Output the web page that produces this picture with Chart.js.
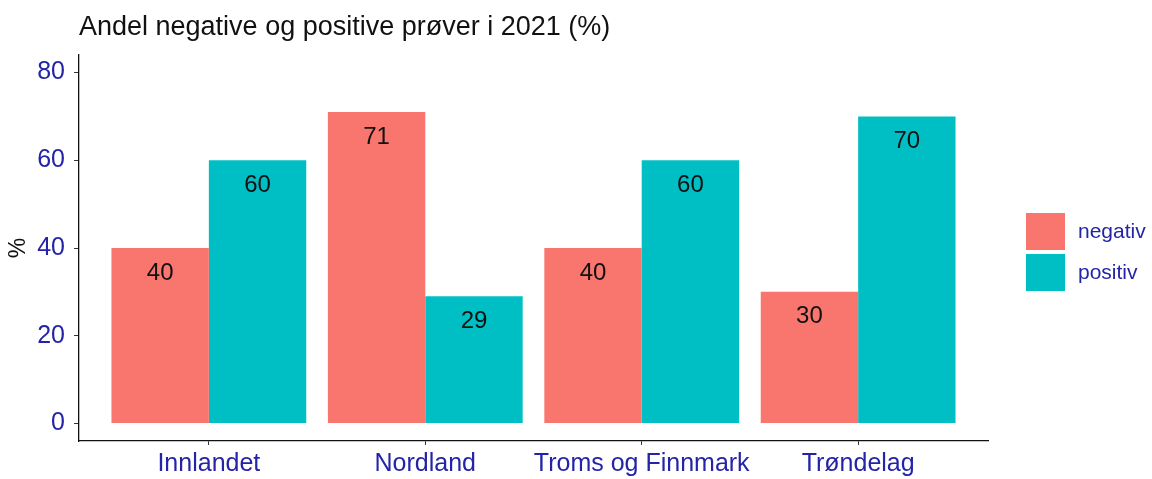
<!DOCTYPE html>
<html>
<head>
<meta charset="utf-8">
<script src="https://cdn.jsdelivr.net/npm/chart.js@4.4.1/dist/chart.umd.min.js"></script>
<style>
  html, body { margin: 0; padding: 0; background: #fff; }
  #wrap { width: 1152px; height: 479px; position: relative; }
</style>
</head>
<body>
<div id="wrap"><canvas id="andelChart"></canvas></div>
<script>
// data
const regions = ['Innlandet', 'Nordland', 'Troms og Finnmark', 'Trøndelag'];
const negativValues = [40, 71, 40, 30];
const positivValues = [60, 29, 60, 70];
const yTicks = [0, 20, 40, 60, 80];

const blueText = '#2424a8';
const fontFam = '"Liberation Sans", Arial, sans-serif';

// custom drawing: title, y title, value labels, legend
const decorPlugin = {
    id: 'decor',
    afterDatasetsDraw(chart) {
        const ctx = chart.ctx;
        ctx.save();
        // value labels in bars
        ctx.fillStyle = '#111';
        ctx.font = '24px ' + fontFam;
        ctx.textAlign = 'center';
        ctx.textBaseline = 'middle';
        chart.data.datasets.forEach(function(ds, i) {
            chart.getDatasetMeta(i).data.forEach(function(bar, j) {
                ctx.fillText(Math.round(ds.data[j].y), bar.x, bar.y + 25);
            });
        });
        ctx.restore();
    },
    afterDraw(chart) {
        const ctx = chart.ctx;
        const area = chart.chartArea;
        ctx.save();
        // title
        ctx.fillStyle = '#111';
        ctx.font = '27px ' + fontFam;
        ctx.textAlign = 'left';
        ctx.textBaseline = 'alphabetic';
        ctx.fillText('Andel negative og positive prøver i 2021 (%)', area.left, 35);
        // y title
        ctx.save();
        ctx.translate(19, (area.top + area.bottom) / 2);
        ctx.rotate(-Math.PI / 2);
        ctx.textAlign = 'center';
        ctx.textBaseline = 'middle';
        ctx.font = '23px ' + fontFam;
        ctx.fillText('%', 0, 0);
        ctx.restore();
        // legend
        const items = chart.data.datasets;
        ctx.font = '21px ' + fontFam;
        ctx.textBaseline = 'middle';
        items.forEach(function(ds, i) {
            const y0 = 213 + i * 41;
            ctx.fillStyle = ds.backgroundColor;
            ctx.fillRect(1026, y0, 39, 37);
            ctx.fillStyle = blueText;
            ctx.fillText(ds.label, 1078, y0 + 19);
        });
        ctx.restore();
    }
};

const chartData = {
    datasets: [{
        label: 'negativ',
        data: negativValues.map(function(v, i) { return { x: i + 1, y: v }; }),
        backgroundColor: '#F8766D'
    }, {
        label: 'positiv',
        data: positivValues.map(function(v, i) { return { x: i + 1, y: v }; }),
        backgroundColor: '#00BFC4'
    }]
};

const chartOptions = {
    responsive: false,
    animation: false,
    layout: {
        padding: { top: 55, right: 164, left: 0, bottom: 0 }
    },
    datasets: {
        bar: {
            categoryPercentage: 0.9,
            barPercentage: 1.0
        }
    },
    scales: {
        x: {
            type: 'linear',
            min: 0.4,
            max: 4.6,
            offset: false,
            afterBuildTicks: function(scale) {
                scale.ticks = regions.map(function(r, i) { return { value: i + 1 }; });
            },
            afterFit: function(scale) { scale.height = 38; },
            ticks: {
                color: blueText,
                font: { size: 25, family: fontFam },
                padding: 4,
                maxRotation: 0,
                autoSkip: false,
                callback: function(value) { return regions[value - 1]; }
            },
            grid: {
                offset: false,
                drawOnChartArea: false,
                drawTicks: true,
                tickLength: 4,
                color: '#333'
            },
            border: { display: true, color: '#111', width: 1.3 }
        },
        y: {
            min: -4,
            max: 84,
            afterBuildTicks: function(scale) {
                scale.ticks = yTicks.map(function(v) { return { value: v }; });
            },
            afterFit: function(scale) { scale.width = 79; },
            ticks: {
                color: blueText,
                font: { size: 25, family: fontFam },
                padding: 9
            },
            grid: {
                drawOnChartArea: false,
                drawTicks: true,
                tickLength: 5,
                color: '#333'
            },
            border: { display: true, color: '#111', width: 1.3 }
        }
    },
    plugins: {
        legend: { display: false },
        tooltip: { enabled: false }
    }
};

const canvas = document.getElementById('andelChart');
canvas.width = 1152;
canvas.height = 479;
const andelChart = new Chart(canvas.getContext('2d'), {
    type: 'bar',
    data: chartData,
    options: chartOptions,
    plugins: [decorPlugin]
});
</script>
</body>
</html>
